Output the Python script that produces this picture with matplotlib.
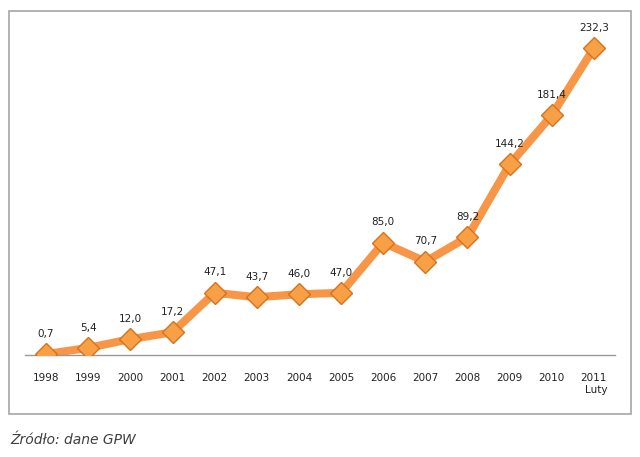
import matplotlib.pyplot as plt
from matplotlib.patches import Rectangle

years = ['1998', '1999', '2000', '2001', '2002', '2003', '2004',
         '2005', '2006', '2007', '2008', '2009', '2010', '2011\nLuty']
values = [0.7, 5.4, 12.0, 17.2, 47.1, 43.7, 46.0,
          47.0, 85.0, 70.7, 89.2, 144.2, 181.4, 232.3]
labels = [f"{v:.1f}".replace('.', ',') for v in values]

fig = plt.figure(figsize=(6.4, 4.57), dpi=100)

# outer frame
fig.patches.append(Rectangle((9 / 640, 1 - 414 / 457), 622 / 640, 403 / 457,
                             transform=fig.transFigure, fill=False,
                             edgecolor='#a6a6a6', linewidth=1.2))

ax = fig.add_axes([25 / 640, 1 - 355 / 457, 590 / 640, 335 / 457])
x = list(range(len(values)))
ax.plot(x, values, color='#f79646', linewidth=5.8, solid_capstyle='round',
        zorder=2)
ax.plot(x, values, linestyle='none', marker='D', markersize=11.5,
        markerfacecolor='#f7a046', markeredgecolor='#d8711c',
        markeredgewidth=1, zorder=3)

for xi, v, lab in zip(x, values, labels):
    ax.annotate(lab, (xi, v), xytext=(0, 11), textcoords='offset points',
                ha='center', va='bottom', fontsize=7.5, color='#222222')

ax.set_xlim(-0.5, len(values) - 0.5)
ax.set_ylim(0, 253.5)
ax.set_xticks(x)
ax.set_xticklabels(years, fontsize=7.5, color='#222222')
for t in ax.get_xticklabels():
    t.set_multialignment('right')
ax.tick_params(axis='x', length=0, pad=13)
ax.set_yticks([])
for s in ['top', 'left', 'right']:
    ax.spines[s].set_visible(False)
ax.spines['bottom'].set_color('#999999')
ax.spines['bottom'].set_linewidth(1)
ax.patch.set_visible(False)

fig.text(10 / 640, 1 - 440 / 457, 'Źródło: dane GPW', fontsize=10,
         style='italic', color='#404040', va='center', ha='left')

fig.savefig('out.png', dpi=100)
